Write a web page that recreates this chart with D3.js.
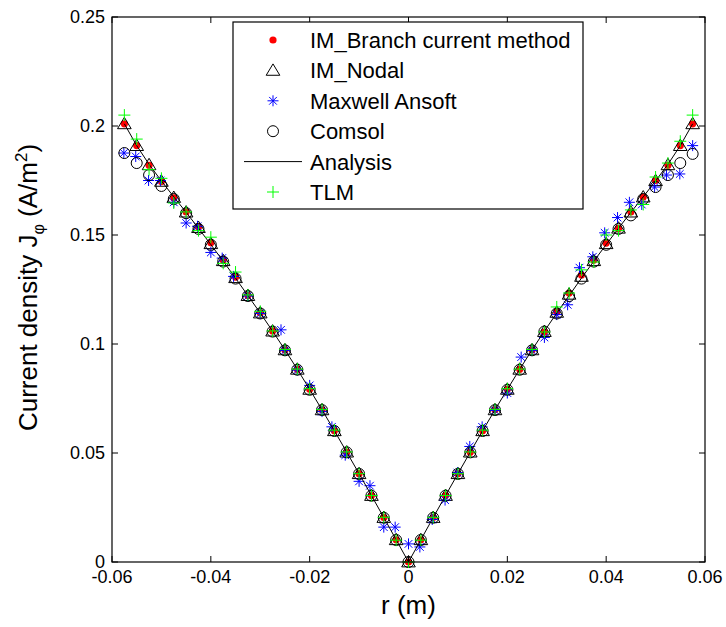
<!DOCTYPE html>
<html>
<head>
<meta charset="utf-8">
<script src="https://cdn.jsdelivr.net/npm/d3@7"></script>
<style>
  body { margin: 0; background: #fff; }
  svg { display: block; font-family: Arial, "Liberation Sans", Helvetica, sans-serif; }
</style>
</head>
<body>
<svg id="chart" width="726" height="627"></svg>
<script>
// radius grid shared by most methods (m)
const rGrid = [-0.0575, -0.055, -0.0525, -0.05, -0.0475, -0.045, -0.0425, -0.04, -0.0375, -0.035,
  -0.0325, -0.03, -0.0275, -0.025, -0.0225, -0.02, -0.0175, -0.015, -0.0125, -0.01, -0.0075, -0.005, -0.0025,
  0, 0.0025, 0.005, 0.0075, 0.01, 0.0125, 0.015, 0.0175, 0.02, 0.0225, 0.025, 0.0275, 0.03, 0.0325,
  0.035, 0.0375, 0.04, 0.0425, 0.045, 0.0475, 0.05, 0.0525, 0.055, 0.0575];

const analysis = [0.2010, 0.1910, 0.1824, 0.1748, 0.1675, 0.1604, 0.1531, 0.1456, 0.1380, 0.1302,
  0.1222, 0.1142, 0.1059, 0.0973, 0.0884, 0.0792, 0.0698, 0.0602, 0.0504, 0.0405, 0.0305, 0.0204, 0.0102,
  0, 0.0102, 0.0204, 0.0305, 0.0405, 0.0504, 0.0602, 0.0698, 0.0792, 0.0884, 0.0973, 0.1059, 0.1142, 0.1222,
  0.1302, 0.1380, 0.1456, 0.1531, 0.1604, 0.1675, 0.1748, 0.1824, 0.1910, 0.2010];

const branch = [0.2010, 0.1910, 0.1820, 0.1745, 0.1670, 0.1606, 0.1537, 0.1464, 0.1385, 0.1307,
  0.1222, 0.1142, 0.1060, 0.0973, 0.0884, 0.0792, 0.0698, 0.0602, 0.0504, 0.0405, 0.0305, 0.0204, 0.0102,
  0, 0.0102, 0.0204, 0.0305, 0.0405, 0.0504, 0.0602, 0.0698, 0.0792, 0.0884, 0.0973, 0.1055, 0.1147, 0.1234,
  0.1317, 0.1385, 0.1463, 0.1530, 0.1606, 0.1674, 0.1750, 0.1820, 0.1910, 0.2010];

const nodal = [0.2010, 0.1910, 0.1822, 0.1746, 0.1672, 0.1605, 0.1534, 0.1460, 0.1382, 0.1304,
  0.1222, 0.1142, 0.1059, 0.0973, 0.0884, 0.0792, 0.0698, 0.0602, 0.0504, 0.0405, 0.0305, 0.0204, 0.0102,
  0, 0.0102, 0.0204, 0.0305, 0.0405, 0.0504, 0.0602, 0.0698, 0.0792, 0.0884, 0.0973, 0.1057, 0.1145, 0.1228,
  0.1310, 0.1382, 0.1460, 0.1531, 0.1605, 0.1674, 0.1749, 0.1822, 0.1910, 0.2010];

const comsol = [0.1876, 0.1830, 0.1775, 0.1725, 0.1665, 0.1600, 0.1528, 0.1455, 0.1378, 0.1300,
  0.1220, 0.1140, 0.1057, 0.0971, 0.0882, 0.0790, 0.0697, 0.0601, 0.0503, 0.0404, 0.0304, 0.0203, 0.0101,
  0, 0.0101, 0.0203, 0.0304, 0.0404, 0.0503, 0.0601, 0.0697, 0.0790, 0.0882, 0.0971, 0.1057, 0.1140, 0.1220,
  0.1300, 0.1378, 0.1455, 0.1528, 0.1590, 0.1665, 0.1720, 0.1775, 0.1830, 0.1872];

const tlm = [0.2050, 0.1940, 0.1800, 0.1760, 0.1647, 0.1606, 0.1520, 0.1490, 0.1370, 0.1330,
  0.1225, 0.1150, 0.1060, 0.0975, 0.0885, 0.0795, 0.0700, 0.0605, 0.0505, 0.0405, 0.0305, 0.0205, 0.0100,
  0, 0.0100, 0.0205, 0.0305, 0.0405, 0.0505, 0.0605, 0.0700, 0.0795, 0.0885, 0.0975, 0.1055, 0.1170, 0.1234,
  0.1340, 0.1376, 0.1500, 0.1520, 0.1615, 0.1640, 0.1766, 0.1830, 0.1930, 0.2050];

// Maxwell Ansoft has its own (slightly irregular) sampling
const ansoftR = [-0.0576, -0.0552, -0.0526, -0.0502, -0.0475, -0.0450, -0.0427, -0.0400, -0.0377, -0.0354,
  -0.0325, -0.0300, -0.0258, -0.0250, -0.0225, -0.0200, -0.0175, -0.0155, -0.0128, -0.0100, -0.0078, -0.0050, -0.0027,
  0.0000, 0.0023, 0.0048, 0.0074, 0.0099, 0.0124, 0.0149, 0.0175, 0.0200, 0.0228, 0.0250, 0.0275, 0.0300, 0.0322,
  0.0346, 0.0373, 0.0397, 0.0423, 0.0447, 0.0472, 0.0498, 0.0522, 0.0549, 0.0575];
const ansoftJ = [0.1876, 0.1860, 0.1750, 0.1750, 0.1650, 0.1555, 0.1540, 0.1420, 0.1394, 0.1310,
  0.1220, 0.1140, 0.1065, 0.0970, 0.0880, 0.0810, 0.0690, 0.0620, 0.0490, 0.0370, 0.0350, 0.0160, 0.0160,
  0.0083, 0.0069, 0.0195, 0.0284, 0.0410, 0.0530, 0.0620, 0.0695, 0.0775, 0.0940, 0.0970, 0.1030, 0.1135, 0.1180,
  0.1350, 0.1400, 0.1510, 0.1580, 0.1650, 0.1640, 0.1720, 0.1775, 0.1780, 0.1910];

const xTicks = [-0.06, -0.04, -0.02, 0, 0.02, 0.04, 0.06];
const yTicks = [0, 0.05, 0.1, 0.15, 0.2, 0.25];
const legendLabels = ['IM_Branch current method', 'IM_Nodal', 'Maxwell Ansoft', 'Comsol', 'Analysis', 'TLM'];

const width = 726, height = 627;
const margin = { left: 112, top: 17, right: 21, bottom: 65 };
const innerW = width - margin.left - margin.right;
const innerH = height - margin.top - margin.bottom;
const tickLen = 6;

const svg = d3.select('#chart');

const x = d3.scaleLinear().domain([-0.06, 0.06]).range([margin.left, margin.left + innerW]);
const y = d3.scaleLinear().domain([0, 0.25]).range([margin.top + innerH, margin.top]);

// markers
const starPath = (s) => {
  const d = s * 0.7;
  return `M${-s},0L${s},0M0,${-s}L0,${s}M${-d},${-d}L${d},${d}M${-d},${d}L${d},${-d}`;
};
const plusPath = (s) => `M${-s},0L${s},0M0,${-s}L0,${s}`;
const triPath = (s) => `M0,${-s}L${s * 1.05},${s * 0.75}L${-s * 1.05},${s * 0.75}Z`;

function drawRed(g, px, py) {
  g.append('circle').attr('cx', px).attr('cy', py).attr('r', 3.6).attr('fill', '#ff0000');
}
function drawTri(g, px, py) {
  g.append('path').attr('transform', `translate(${px},${py})`).attr('d', triPath(6.5))
    .attr('fill', 'none').attr('stroke', '#000').attr('stroke-width', 1);
}
function drawStar(g, px, py) {
  g.append('path').attr('transform', `translate(${px},${py})`).attr('d', starPath(5.5))
    .attr('fill', 'none').attr('stroke', '#0000ff').attr('stroke-width', 1);
}
function drawCircle(g, px, py) {
  g.append('circle').attr('cx', px).attr('cy', py).attr('r', 5.5)
    .attr('fill', 'none').attr('stroke', '#000').attr('stroke-width', 1);
}
function drawPlus(g, px, py) {
  g.append('path').attr('transform', `translate(${px},${py})`).attr('d', plusPath(6))
    .attr('fill', 'none').attr('stroke', '#00ff00').attr('stroke-width', 1);
}

const plot = svg.append('g').attr('class', 'plot');

rGrid.forEach((r, i) => drawRed(plot, x(r), y(branch[i])));
rGrid.forEach((r, i) => drawTri(plot, x(r), y(nodal[i])));
ansoftR.forEach((r, i) => drawStar(plot, x(r), y(ansoftJ[i])));
rGrid.forEach((r, i) => drawCircle(plot, x(r), y(comsol[i])));

const line = d3.line().x((d) => x(d[0])).y((d) => y(d[1]));
plot.append('path')
  .datum(rGrid.map((r, i) => [r, analysis[i]]))
  .attr('d', line)
  .attr('fill', 'none')
  .attr('stroke', '#000')
  .attr('stroke-width', 1);

rGrid.forEach((r, i) => drawPlus(plot, x(r), y(tlm[i])));

// axes box with inward ticks on all four sides
const axes = svg.append('g').attr('class', 'axes');
const x0 = margin.left, x1 = margin.left + innerW, y0 = margin.top + innerH, y1 = margin.top;

axes.selectAll('line.xt').data(xTicks).join('line')
  .attr('x1', (d) => x(d)).attr('x2', (d) => x(d))
  .attr('y1', y0).attr('y2', y0 - tickLen).attr('stroke', '#000');
axes.selectAll('line.xt2').data(xTicks).join('line')
  .attr('x1', (d) => x(d)).attr('x2', (d) => x(d))
  .attr('y1', y1).attr('y2', y1 + tickLen).attr('stroke', '#000');
axes.selectAll('line.yt').data(yTicks).join('line')
  .attr('x1', x0).attr('x2', x0 + tickLen)
  .attr('y1', (d) => y(d)).attr('y2', (d) => y(d)).attr('stroke', '#000');
axes.selectAll('line.yt2').data(yTicks).join('line')
  .attr('x1', x1).attr('x2', x1 - tickLen)
  .attr('y1', (d) => y(d)).attr('y2', (d) => y(d)).attr('stroke', '#000');

axes.append('rect')
  .attr('x', x0).attr('y', y1).attr('width', innerW).attr('height', innerH)
  .attr('fill', 'none').attr('stroke', '#000').attr('stroke-width', 1.2);

axes.selectAll('text.xl').data(xTicks).join('text')
  .attr('x', (d) => x(d)).attr('y', y0 + 21)
  .attr('text-anchor', 'middle').style('font-size', '18px')
  .text((d) => d === 0 ? '0' : d3.format('.2f')(d).replace('−', '-'));

axes.selectAll('text.yl').data(yTicks).join('text')
  .attr('x', x0 - 7).attr('y', (d) => y(d) + 6)
  .attr('text-anchor', 'end').style('font-size', '18px')
  .text((d) => d === 0 ? '0' : String(d));

// axis titles
svg.append('text')
  .attr('x', x(0)).attr('y', 614)
  .attr('text-anchor', 'middle').style('font-size', '26px')
  .text('r (m)');

const yLab = svg.append('text')
  .attr('transform', `translate(37, ${margin.top + innerH / 2 - 2}) rotate(-90)`)
  .attr('text-anchor', 'middle').style('font-size', '26px');
yLab.append('tspan').text('Current density J');
yLab.append('tspan').attr('dy', 7).style('font-size', '16px').text('φ');
yLab.append('tspan').attr('dy', -7).text(' (A/m');
yLab.append('tspan').attr('dy', -10).style('font-size', '17px').text('2');
yLab.append('tspan').attr('dy', 10).text(')');

// legend
const lg = svg.append('g').attr('class', 'legend');
const lgX = 233, lgY = 22, lgW = 350, lgH = 187;
lg.append('rect').attr('x', lgX).attr('y', lgY).attr('width', lgW).attr('height', lgH)
  .attr('fill', '#fff').attr('stroke', '#000').attr('stroke-width', 1.2);

const rowY = (i) => 40 + i * 30.4;
const symX = 273;
drawRed(lg, symX, rowY(0));
drawTri(lg, symX, rowY(1));
drawStar(lg, symX, rowY(2));
drawCircle(lg, symX, rowY(3));
lg.append('line').attr('x1', 244).attr('x2', 302).attr('y1', rowY(4)).attr('y2', rowY(4)).attr('stroke', '#000');
drawPlus(lg, symX, rowY(5));

lg.selectAll('text').data(legendLabels).join('text')
  .attr('x', 310).attr('y', (d, i) => rowY(i) + 8)
  .style('font-size', '22px')
  .text((d) => d);
</script>
</body>
</html>
